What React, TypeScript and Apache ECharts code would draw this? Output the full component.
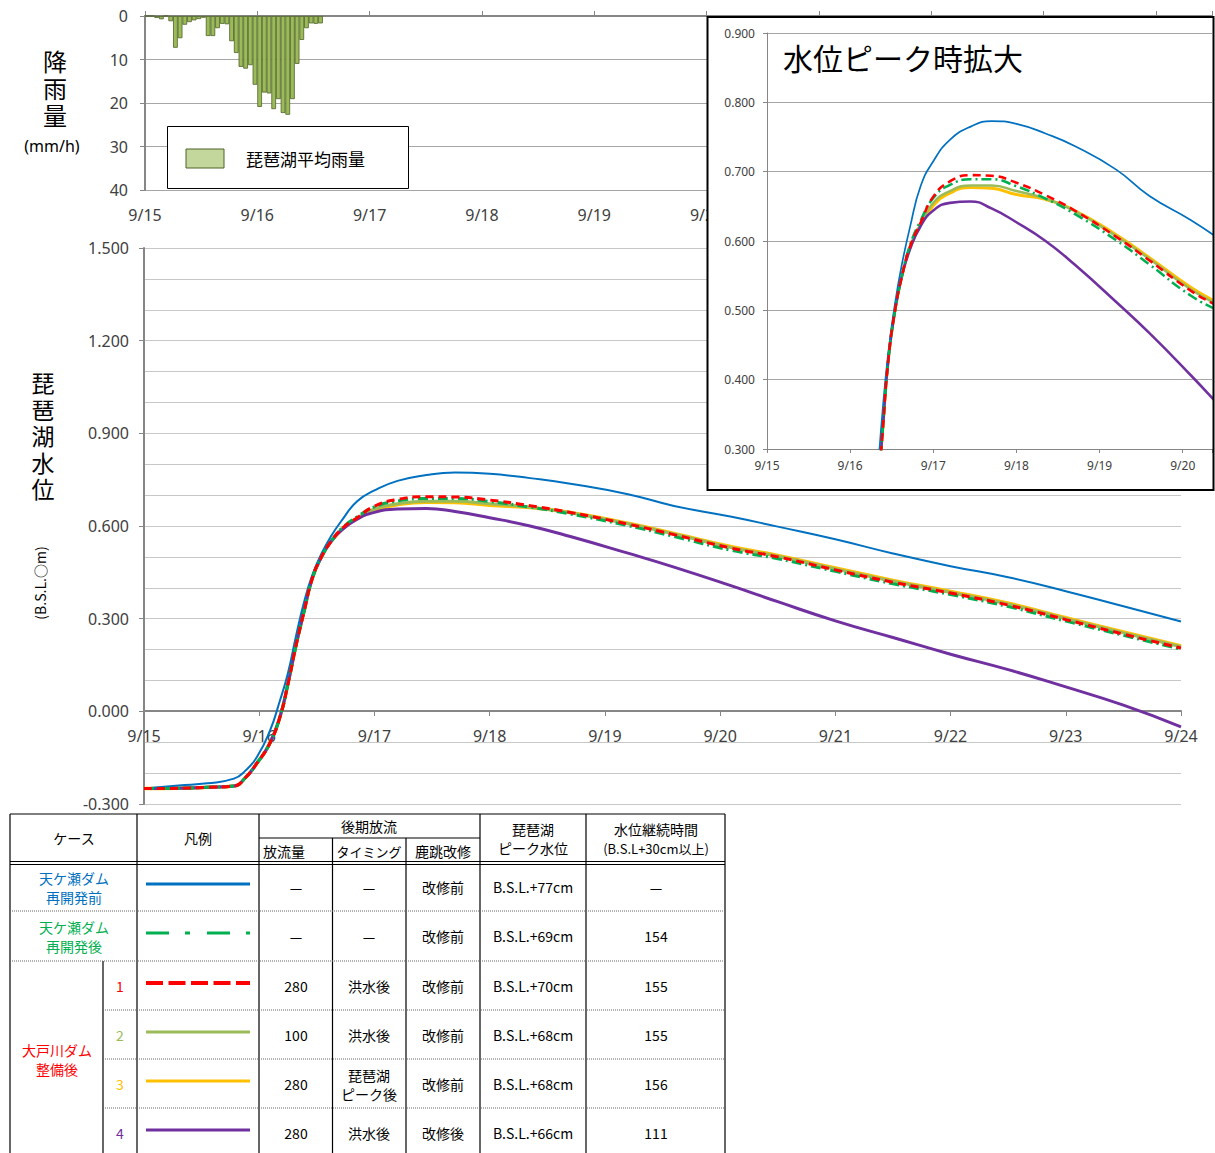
import React, { useEffect, useRef } from "react";
import * as echarts from "echarts";

// ---------- data ----------
const dateLabels = ["9/15", "9/16", "9/17", "9/18", "9/19", "9/20", "9/21", "9/22", "9/23", "9/24"];

// hourly rainfall (mm/h), index = hours since 9/15 0:00
const rainfall = [0, 0, 0.45, 0.75, 0, 1.2, 7.3, 5.1, 2.0, 1.4, 1.0, 0.7, 0.4, 4.6, 4.6, 2.8, 1.8, 1.9, 5.8, 8.5,
  11.7, 12.1, 11.3, 15.8, 20.9, 17.6, 17.8, 21.4, 19.1, 22.3, 22.7, 19.1, 11.0, 5.5, 2.8, 1.7, 1.8, 1.7];

// days since 9/15 0:00
const dayPoints = [0, 0.3, 0.55, 0.78, 0.88, 0.98, 1.09, 1.18, 1.25, 1.32, 1.39, 1.46, 1.54, 1.62, 1.72, 1.85,
  2.0, 2.2, 2.45, 2.7, 3.0, 3.35, 3.7, 4.2, 4.6, 5.1, 5.5, 6.0, 6.5, 7.0, 7.5, 8.0, 8.5, 9.0];

const levelBefore = [-0.250, -0.240, -0.233, -0.218, -0.192, -0.148, -0.066, 0.035, 0.125, 0.245, 0.355, 0.440,
  0.510, 0.565, 0.620, 0.680, 0.715, 0.746, 0.765, 0.773, 0.769, 0.755, 0.737, 0.703, 0.665, 0.630, 0.598, 0.557,
  0.511, 0.470, 0.434, 0.389, 0.340, 0.291];
const levelAfter = [-0.250, -0.249, -0.246, -0.242, -0.215, -0.168, -0.105, -0.018, 0.090, 0.215, 0.325, 0.430,
  0.500, 0.548, 0.594, 0.630, 0.662, 0.681, 0.689, 0.689, 0.679, 0.661, 0.639, 0.601, 0.566, 0.521, 0.494, 0.453,
  0.413, 0.378, 0.339, 0.292, 0.246, 0.201];
const levelCase1 = [-0.250, -0.249, -0.246, -0.242, -0.215, -0.168, -0.105, -0.018, 0.090, 0.215, 0.325, 0.430,
  0.500, 0.548, 0.592, 0.627, 0.664, 0.686, 0.695, 0.694, 0.684, 0.666, 0.644, 0.606, 0.572, 0.528, 0.500, 0.458,
  0.418, 0.383, 0.344, 0.297, 0.250, 0.205];
const levelCase2 = [-0.250, -0.249, -0.246, -0.242, -0.215, -0.168, -0.105, -0.018, 0.090, 0.215, 0.325, 0.430,
  0.500, 0.548, 0.592, 0.625, 0.655, 0.672, 0.680, 0.680, 0.672, 0.661, 0.643, 0.607, 0.574, 0.530, 0.502, 0.461,
  0.421, 0.385, 0.347, 0.300, 0.254, 0.209];
const levelCase3 = [-0.250, -0.249, -0.246, -0.242, -0.215, -0.168, -0.105, -0.018, 0.090, 0.215, 0.325, 0.430,
  0.500, 0.548, 0.590, 0.624, 0.651, 0.669, 0.677, 0.676, 0.667, 0.660, 0.644, 0.609, 0.576, 0.533, 0.505, 0.464,
  0.424, 0.388, 0.350, 0.303, 0.257, 0.212];
const levelCase4 = [-0.250, -0.249, -0.246, -0.242, -0.215, -0.168, -0.105, -0.018, 0.090, 0.215, 0.325, 0.430,
  0.500, 0.548, 0.588, 0.622, 0.644, 0.655, 0.657, 0.647, 0.627, 0.600, 0.566, 0.512, 0.467, 0.406, 0.355, 0.293,
  0.239, 0.185, 0.135, 0.079, 0.020, -0.050];

// table contents
const caseLabels = ["天ケ瀬ダム\n再開発前", "天ケ瀬ダム\n再開発後"];
const caseGroupLabel = "大戸川ダム\n整備後";
const caseNumbers = ["", "", "1", "2", "3", "4"];
const dischargeCol = ["—", "—", "280", "100", "280", "280"];
const timingCol = ["—", "—", "洪水後", "洪水後", "琵琶湖\nピーク後", "洪水後"];
const repairCol = ["改修前", "改修前", "改修前", "改修前", "改修前", "改修後"];
const peakCol = ["B.S.L.+77cm", "B.S.L.+69cm", "B.S.L.+70cm", "B.S.L.+68cm", "B.S.L.+68cm", "B.S.L.+66cm"];
const durationCol = ["—", "154", "155", "155", "156", "111"];

const C_BLUE = "#0070c0";
const C_GREEN = "#00b050";
const C_RED = "#ff0000";
const C_LGREEN = "#9bbb59";
const C_YELLOW = "#ffc000";
const C_PURPLE = "#7030a0";
const rowColors = [C_BLUE, C_GREEN, C_RED, C_LGREEN, C_YELLOW, C_PURPLE];

const JP = "'Noto Sans CJK JP', 'Noto Sans', sans-serif";
const NUM = "'Noto Sans', 'Open Sans', sans-serif";
const AX = "#868686";

const dayFmt = (v: number) => {
  const r = Math.round(v);
  return Math.abs(v - r) < 1e-6 && dateLabels[r] ? dateLabels[r] : "";
};

function pairs(vals: number[]) {
  return dayPoints.map((d, i) => [d, vals[i]]);
}

function lineSeries(x: number, y: number, z: number, inset: boolean) {
  const s = inset ? 0.85 : 1;
  const mk = (name: string, vals: number[], color: string, width: number, type: any, zz: number) => ({
    name,
    type: "line",
    xAxisIndex: x,
    yAxisIndex: y,
    data: pairs(vals),
    smooth: 0.5,
    showSymbol: false,
    symbol: "none",
    z: z + zz,
    lineStyle: { color, width: width * s, type },
  });
  return [
    mk("case3", levelCase3, C_YELLOW, 3.5, "solid", 0),
    mk("case2", levelCase2, C_LGREEN, 3, "solid", 1),
    mk("case4", levelCase4, C_PURPLE, 3, "solid", 2),
    mk("before", levelBefore, C_BLUE, 2, "solid", 3),
    mk("after", levelAfter, C_GREEN, 3, [10, 4, 2, 4], 4),
    mk("case1", levelCase1, C_RED, 3, [8, 5], 5),
  ];
}

function vText(chars: string, x: number, y0: number, step: number, size: number): any[] {
  return chars.split("").map((c, i) => ({
    type: "text",
    x,
    y: y0 + i * step,
    style: { text: c, font: `${size}px ${JP}`, fill: "#000", textAlign: "center", textVerticalAlign: "middle" },
    silent: true,
  }));
}

function buildTable(): any[] {
  const els: any[] = [];
  const L = 10, R = 725, T = 814, B = 1153;
  const line = (x1: number, y1: number, x2: number, y2: number, dotted = false, w = 1.2) => {
    els.push({
      type: "line",
      shape: { x1, y1, x2, y2 },
      style: dotted
        ? { stroke: "#666", lineWidth: 1, lineDash: [1, 1] }
        : { stroke: "#000", lineWidth: w },
      silent: true,
    });
  };
  const text = (t: string, x: number, y: number, color = "#000", size = 14, align = "center") => {
    els.push({
      type: "text",
      x,
      y,
      style: {
        text: t,
        fill: color,
        font: `${size}px ${JP}`,
        textAlign: align,
        textVerticalAlign: "middle",
        lineHeight: 19,
      },
      silent: true,
    });
  };
  line(L, T, R, T);
  line(L, T, L, B);
  line(137, T, 137, B);
  line(259, T, 259, B);
  line(332.5, 838, 332.5, B);
  line(406, 838, 406, B);
  line(480, T, 480, B);
  line(586, T, 586, B);
  line(R, T, R, B);
  line(103, 961, 103, B);
  line(259, 838, 480, 838);
  line(L, 861.5, R, 861.5);
  line(L, 864.5, R, 864.5);
  line(L, 911, R, 911, true);
  line(L, 961, R, 961, true);
  line(103, 1010, R, 1010, true);
  line(103, 1059, R, 1059, true);
  line(103, 1108, R, 1108, true);

  text("ケース", 74, 838);
  text("凡例", 198, 838);
  text("後期放流", 369, 826);
  text("放流量", 284, 851);
  text("タイミング", 369, 851, "#000", 13);
  text("鹿跳改修", 443, 851);
  text("琵琶湖", 533, 829);
  text("ピーク水位", 533, 848);
  text("水位継続時間", 656, 829);
  text("(B.S.L+30cm以上)", 656, 848, "#000", 13);

  const rowY = [887, 936, 986, 1035, 1084, 1133];
  text(caseLabels[0], 74, rowY[0], C_BLUE);
  text(caseLabels[1], 74, rowY[1], C_GREEN);
  text(caseGroupLabel, 57, 1059, C_RED);
  const legendDash: any[] = [null, [23, 16, 5, 17], [17, 5.5], null, null, null];
  rowY.forEach((y, i) => {
    if (caseNumbers[i]) text(caseNumbers[i], 120, y, rowColors[i]);
    els.push({
      type: "line",
      shape: { x1: 146, y1: y - 3, x2: 250, y2: y - 3 },
      style: { stroke: rowColors[i], lineWidth: i === 2 ? 4 : 3, lineDash: legendDash[i] },
      silent: true,
    });
    text(dischargeCol[i], 296, y);
    text(timingCol[i], 369, y);
    text(repairCol[i], 443, y);
    text(peakCol[i], 533, y);
    text(durationCol[i], 656, y);
  });
  return els;
}

export default function App() {
  const ref = useRef<HTMLDivElement>(null);
  useEffect(() => {
    document.body.style.margin = "0";
    const chart = echarts.init(ref.current!, null, { renderer: "svg" });

    const graphic: any[] = [
      ...vText("降雨量", 55, 60, 27, 24),
      { type: "text", x: 52, y: 146, style: { text: "(mm/h)", font: `16px ${NUM}`, fill: "#000", textAlign: "center", textVerticalAlign: "middle" } },
      { type: "rect", shape: { x: 167.5, y: 126.5, width: 241, height: 62 }, style: { fill: "#fff", stroke: "#000", lineWidth: 1 }, z: 5 },
      { type: "rect", shape: { x: 186, y: 149, width: 38, height: 19 }, style: { fill: "#c3d69b", stroke: "#4f6228", lineWidth: 1 }, z: 6 },
      { type: "text", x: 246, y: 158, z: 6, style: { text: "琵琶湖平均雨量", font: `17px ${JP}`, fill: "#000", textAlign: "left", textVerticalAlign: "middle" } },
      ...vText("琵琶湖水位", 43, 382, 26.5, 23),
      { type: "text", x: 40, y: 583, rotation: Math.PI / 2, style: { text: "(B.S.L.○m)", font: `14px ${JP}`, fill: "#000", textAlign: "center", textVerticalAlign: "middle" } },
      { type: "rect", shape: { x: 707.5, y: 17, width: 506, height: 473 }, style: { fill: "#fff", stroke: "none" }, z: 20 },
      { type: "rect", shape: { x: 707.5, y: 17, width: 506, height: 473 }, style: { fill: "none", stroke: "#000", lineWidth: 2 }, z: 60 },
      { type: "text", x: 783, y: 57, z: 60, style: { text: "水位ピーク時拡大", font: `30px ${JP}`, fill: "#000", textAlign: "left", textVerticalAlign: "middle" } },
      ...buildTable(),
    ];

    const option: any = {
      animation: false,
      backgroundColor: "#fff",
      grid: [
        { left: 145, top: 16, width: 1071, height: 174 },
        { left: 144, top: 248, width: 1037, height: 556 },
        { left: 767, top: 33, width: 446, height: 416, z: 30 },
        { left: 144, top: 248, width: 1037, height: 463 },
      ],
      xAxis: [
        {
          gridIndex: 0, type: "value", min: 0, max: 9.5, interval: 1, position: "bottom",
          axisLine: { show: false, onZero: false }, axisTick: { show: false }, splitLine: { show: false },
          axisLabel: { formatter: dayFmt, fontSize: 16, color: "#404040", fontFamily: NUM, margin: 17 },
        },
        {
          gridIndex: 0, type: "value", min: 0, max: 9.5, interval: 1, position: "top",
          axisLine: { show: true, onZero: false, lineStyle: { color: AX, width: 2 } },
          axisTick: { show: true, length: 5, lineStyle: { color: AX } },
          axisLabel: { show: false }, splitLine: { show: false },
        },
        {
          gridIndex: 1, type: "value", min: 0, max: 9, interval: 1, show: false,
        },
        {
          gridIndex: 2, type: "value", min: 0, max: 5.352, interval: 1, z: 30,
          axisLine: { show: true, onZero: false, lineStyle: { color: AX, width: 1 } },
          axisTick: { show: true, length: 4, lineStyle: { color: AX } },
          axisLabel: { formatter: dayFmt, fontSize: 12, color: "#404040", fontFamily: NUM, margin: 10 },
          splitLine: { show: false },
        },
        {
          gridIndex: 3, type: "value", min: 0, max: 9, interval: 1, position: "bottom", z: 3,
          axisLine: { show: true, onZero: false, lineStyle: { color: AX, width: 2 } },
          axisTick: { show: true, length: 5, lineStyle: { color: AX } },
          axisLabel: { formatter: dayFmt, fontSize: 16, color: "#404040", fontFamily: NUM, margin: 17 },
          splitLine: { show: false },
        },
      ],
      yAxis: [
        {
          gridIndex: 0, type: "value", inverse: true, min: 0, max: 40, interval: 10,
          axisLine: { show: true, lineStyle: { color: AX, width: 2 } },
          axisTick: { show: true, length: 5, lineStyle: { color: AX } },
          axisLabel: { fontSize: 16, color: "#404040", fontFamily: NUM, margin: 17 },
          splitLine: { show: true, lineStyle: { color: "#a6a6a6", width: 1 } },
        },
        {
          gridIndex: 1, type: "value", min: -0.3, max: 1.5, interval: 0.3,
          axisLine: { show: true, onZero: false, lineStyle: { color: AX, width: 2 } },
          axisTick: { show: true, length: 5, lineStyle: { color: AX } },
          axisLabel: { formatter: (v: number) => v.toFixed(3), fontSize: 16, color: "#404040", fontFamily: NUM, margin: 15 },
          splitLine: { show: true, lineStyle: { color: "#c8c8c8", width: 1 } },
          minorTick: { show: false, splitNumber: 3 },
          minorSplitLine: { show: true, lineStyle: { color: "#c8c8c8", width: 1 } },
        },
        {
          gridIndex: 2, type: "value", min: 0.3, max: 0.9, interval: 0.1, z: 30,
          axisLine: { show: true, onZero: false, lineStyle: { color: AX, width: 1 } },
          axisTick: { show: true, length: 4, lineStyle: { color: AX } },
          axisLabel: { formatter: (v: number) => v.toFixed(3), fontSize: 12, color: "#404040", fontFamily: NUM, margin: 12 },
          splitLine: { show: true, lineStyle: { color: "#a6a6a6", width: 1 } },
        },
        {
          gridIndex: 3, type: "value", min: 0, max: 1, show: false,
        },
      ],
      series: [
        {
          name: "琵琶湖平均雨量",
          type: "bar",
          xAxisIndex: 0,
          yAxisIndex: 0,
          barWidth: 4.7,
          data: rainfall.map((v, h) => [(h + 0.5) / 24, v]),
          itemStyle: { color: C_LGREEN, borderColor: "#4f6228", borderWidth: 0.8 },
        },
        ...lineSeries(2, 1, 2, false),
        ...lineSeries(3, 2, 31, true),
      ],
      graphic,
    };
    chart.setOption(option);
    return () => chart.dispose();
  }, []);
  return <div ref={ref} style={{ width: 1215, height: 1153 }} />;
}
